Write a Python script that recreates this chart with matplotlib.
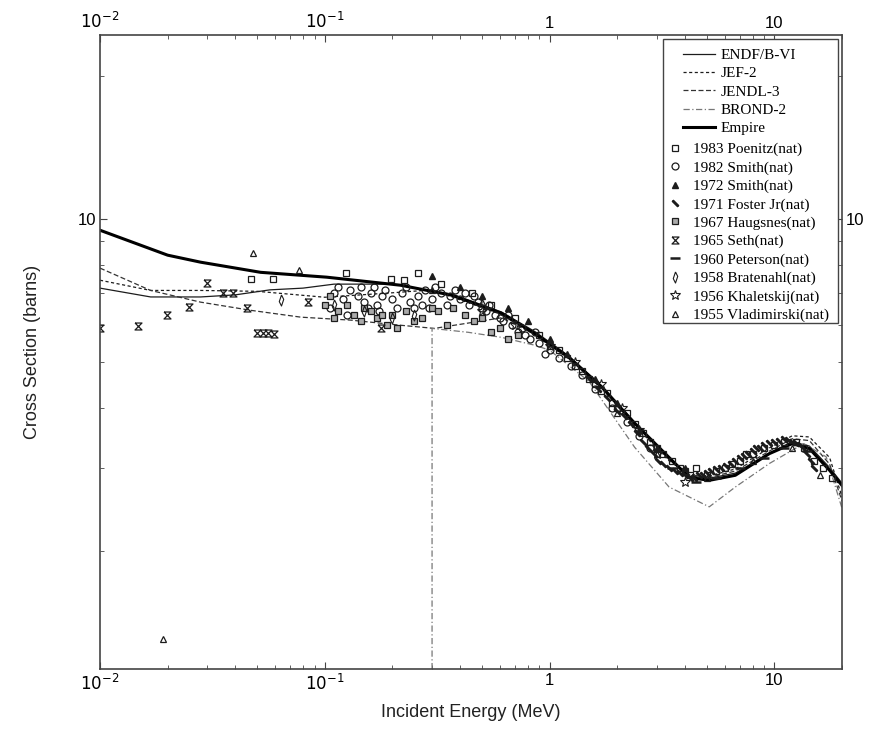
import matplotlib
matplotlib.use("Agg")
import matplotlib.pyplot as plt
from matplotlib.patches import Rectangle
from matplotlib.ticker import FixedLocator, FixedFormatter, LogLocator, NullFormatter

# evaluated cross sections (MeV, barns)
endf_e = [0.01, 0.0168, 0.028, 0.04, 0.057, 0.08, 0.11, 0.2, 0.37, 0.61, 0.86, 1.22, 1.71, 2.39, 3.4, 4.18, 5.13, 6.7, 9.5, 12.0, 14.3, 17.6, 20.0]
endf_xs = [7.16, 6.86, 6.86, 6.93, 7.10, 7.16, 7.30, 7.30, 6.95, 6.38, 5.80, 5.15, 4.45, 3.72, 3.12, 2.88, 2.85, 2.92, 3.22, 3.40, 3.33, 3.00, 2.78]

jef_e = [0.01, 0.0168, 0.028, 0.05, 0.1, 0.2, 0.3, 0.61, 0.86, 1.22, 1.71, 2.39, 3.4, 4.18, 5.13, 6.7, 9.5, 12.0, 14.3, 17.6, 20.0]
jef_xs = [7.44, 7.08, 7.08, 7.05, 6.85, 7.00, 7.10, 6.30, 5.70, 5.08, 4.40, 3.68, 3.10, 2.90, 2.88, 2.98, 3.30, 3.50, 3.48, 3.15, 2.60]

jendl_e = [0.01, 0.0168, 0.028, 0.0468, 0.0782, 0.131, 0.218, 0.307, 0.611, 0.86, 1.22, 1.71, 2.39, 3.4, 4.18, 5.13, 6.7, 9.5, 12.0, 14.3, 17.6, 20.0]
jendl_xs = [7.89, 7.08, 6.69, 6.43, 6.22, 6.13, 5.98, 5.89, 6.20, 5.72, 5.10, 4.40, 3.70, 3.12, 2.90, 2.86, 2.95, 3.25, 3.45, 3.42, 3.05, 2.55]

brond_e = [0.3, 0.3, 0.434, 0.611, 0.857, 1.0, 1.5, 2.39, 3.4, 5.13, 6.7, 9.5, 13.5, 17.0, 20.0]
brond_xs = [1.0, 5.89, 5.78, 5.64, 5.43, 5.30, 4.55, 3.31, 2.73, 2.48, 2.73, 3.06, 3.37, 3.16, 2.46]

empire_e = [0.01, 0.02, 0.028, 0.0518, 0.102, 0.218, 0.366, 0.611, 0.857, 1.216, 1.71, 2.39, 3.40, 4.18, 5.13, 6.70, 9.5, 12.0, 14.3, 17.6, 20.0]
empire_xs = [9.48, 8.40, 8.12, 7.73, 7.55, 7.26, 6.92, 6.34, 5.75, 5.12, 4.43, 3.72, 3.15, 2.86, 2.82, 2.89, 3.21, 3.37, 3.29, 2.96, 2.75]

# measurements
poenitz_e = [0.047, 0.059, 0.124, 0.197, 0.225, 0.26, 0.33, 0.45, 0.55, 0.7, 0.9, 1.0, 1.1, 1.2, 1.3, 1.4, 1.5, 1.6, 1.7, 1.8, 1.9, 2.0, 2.2, 2.4, 2.6, 2.8, 3.0, 3.2, 3.5, 3.8, 4.0, 4.2, 4.5, 5.0, 5.5, 6.0, 6.5, 7.0, 7.5, 8.0, 9.0, 10.0, 11.0, 12.5, 13.5, 15.0, 16.5, 18.0]
poenitz_xs = [7.5, 7.5, 7.7, 7.5, 7.45, 7.7, 7.3, 7.0, 6.6, 6.2, 5.7, 5.4, 5.3, 5.1, 4.9, 4.8, 4.6, 4.5, 4.35, 4.3, 4.1, 4.0, 3.9, 3.7, 3.55, 3.4, 3.3, 3.2, 3.1, 3.0, 2.95, 2.9, 3.0, 2.9, 2.95, 3.0, 3.05, 3.1, 3.2, 3.2, 3.3, 3.35, 3.4, 3.4, 3.3, 3.1, 3.0, 2.85]

smith82_e = [0.105, 0.11, 0.115, 0.12, 0.125, 0.13, 0.14, 0.145, 0.15, 0.155, 0.16, 0.165, 0.17, 0.175, 0.18, 0.185, 0.2, 0.21, 0.22, 0.23, 0.24, 0.25, 0.26, 0.27, 0.28, 0.29, 0.3, 0.31, 0.33, 0.35, 0.36, 0.38, 0.4, 0.42, 0.44, 0.46, 0.48, 0.5, 0.52, 0.54, 0.57, 0.6, 0.62, 0.65, 0.68, 0.72, 0.75, 0.78, 0.82, 0.86, 0.9, 0.95, 1.0, 1.1, 1.25, 1.4, 1.6, 1.9, 2.2, 2.5, 2.8]
smith82_xs = [6.5, 7.0, 7.2, 6.8, 6.3, 7.1, 6.9, 7.2, 6.7, 6.5, 7.0, 7.2, 6.6, 6.4, 6.9, 7.1, 6.8, 6.5, 7.0, 7.2, 6.7, 6.5, 6.9, 6.6, 7.1, 6.5, 6.8, 7.2, 7.0, 6.6, 6.9, 7.1, 6.8, 7.0, 6.6, 6.9, 6.7, 6.5, 6.4, 6.6, 6.3, 6.2, 6.1, 6.3, 6.0, 5.8, 5.9, 5.7, 5.6, 5.8, 5.5, 5.2, 5.3, 5.1, 4.9, 4.7, 4.4, 4.0, 3.75, 3.5, 3.3]

smith72_e = [0.3, 0.4, 0.5, 0.65, 0.8, 1.0, 1.2, 1.6, 2.0, 2.5, 3.0, 4.0]
smith72_xs = [7.6, 7.2, 6.9, 6.5, 6.1, 5.6, 5.2, 4.6, 4.1, 3.6, 3.3, 3.0]

foster_e = [1.5, 1.65, 1.8, 2.0, 2.15, 2.3, 2.45, 2.6, 2.75, 2.9, 3.05, 3.2, 3.4, 3.6, 3.8, 4.0, 4.2, 4.4, 4.6, 4.8, 5.0, 5.2, 5.5, 5.8, 6.1, 6.4, 6.7, 7.0, 7.3, 7.6, 8.0, 8.3, 8.6, 9.0, 9.5, 10.0, 10.5, 11.0, 11.5, 12.0, 12.5, 13.0, 13.5, 14.0, 14.5, 15.0]
foster_xs = [4.6, 4.4, 4.2, 3.95, 3.85, 3.7, 3.55, 3.4, 3.3, 3.2, 3.1, 3.05, 3.0, 2.95, 2.92, 2.9, 2.85, 2.85, 2.9, 2.9, 2.92, 2.95, 2.98, 3.0, 3.02, 3.05, 3.1, 3.15, 3.18, 3.2, 3.25, 3.3, 3.3, 3.35, 3.38, 3.4, 3.42, 3.45, 3.43, 3.4, 3.38, 3.35, 3.28, 3.2, 3.1, 3.0]

haugsnes_e = [0.1, 0.105, 0.11, 0.115, 0.125, 0.135, 0.145, 0.15, 0.16, 0.17, 0.18, 0.19, 0.2, 0.21, 0.23, 0.25, 0.27, 0.3, 0.32, 0.35, 0.37, 0.42, 0.46, 0.5, 0.55, 0.6, 0.65, 0.72]
haugsnes_xs = [6.6, 6.9, 6.2, 6.4, 6.6, 6.3, 6.1, 6.5, 6.4, 6.2, 6.3, 6.0, 6.3, 5.9, 6.4, 6.1, 6.2, 6.5, 6.4, 6.0, 6.5, 6.3, 6.1, 6.2, 5.8, 5.9, 5.6, 5.7]

seth_e = [0.01, 0.0148, 0.0199, 0.0249, 0.030, 0.0354, 0.0392, 0.0453, 0.050, 0.053, 0.056, 0.0595, 0.084, 0.178]
seth_xs = [5.89, 5.95, 6.28, 6.53, 7.33, 6.99, 6.99, 6.50, 5.75, 5.75, 5.75, 5.72, 6.70, 5.89]

peterson_e = [3.5, 4.5, 5.5, 7.0, 9.0, 11.0, 14.0]
peterson_xs = [3.0, 2.8, 2.85, 3.0, 3.15, 3.3, 3.25]

bratenahl_e = [0.064, 0.11, 0.15, 0.2, 0.25]
bratenahl_xs = [6.75, 6.6, 6.4, 6.2, 6.3]

khaletskij_e = [0.5, 0.7, 1.0, 1.3, 1.7, 2.1, 2.5, 3.0, 4.0]
khaletskij_xs = [6.4, 6.0, 5.4, 5.0, 4.5, 4.0, 3.6, 3.2, 2.8]

vladimirski_e = [0.019, 0.048, 0.077, 0.3, 0.5, 1.0, 2.0, 3.0, 5.0, 8.0, 12.0, 16.0]
vladimirski_xs = [1.31, 8.48, 7.81, 7.1, 6.7, 5.5, 3.9, 3.2, 2.85, 3.1, 3.3, 2.9]

hourglass = [(-1, 1), (1, 1), (-1, -1), (1, -1), (-1, 1)]
leaf = [(0, 1.0), (0.4, 0.2), (0, -1.0), (-0.4, -0.2), (0, 1.0)]
ink = "#1c1c1c"

fig = plt.figure(figsize=(8.71, 7.33), dpi=100)
ax = fig.add_axes([0.1148, 0.0873, 0.852, 0.8647])
ax.set_xscale("log")
ax.set_yscale("log")

lines = []
lines += ax.plot(endf_e, endf_xs, "-", color=ink, lw=0.9, label="ENDF/B-VI")
lines += ax.plot(jef_e, jef_xs, linestyle=(0, (2.5, 2)), color=ink, lw=0.9, label="JEF-2")
lines += ax.plot(jendl_e, jendl_xs, linestyle=(0, (4, 2)), color="#333333", lw=0.9, label="JENDL-3")
lines += ax.plot(brond_e, brond_xs, linestyle=(0, (5, 2, 1, 2)), color="#777777", lw=0.9, label="BROND-2")
lines += ax.plot(empire_e, empire_xs, "-", color="black", lw=2.2, label="Empire")

mk = dict(linestyle="none", color=ink, mfc="none", ms=5, mew=0.9)
pts = []
pts += ax.plot(poenitz_e, poenitz_xs, marker="s", label="1983 Poenitz(nat)", **mk)
pts += ax.plot(smith82_e, smith82_xs, marker="o", label="1982 Smith(nat)", **mk)
pts += ax.plot(smith72_e, smith72_xs, marker="^", linestyle="none", color=ink, ms=5, label="1972 Smith(nat)")
pts += ax.plot(foster_e, foster_xs, marker=(2, 2, 45), linestyle="none", color=ink, ms=6, mew=1.8, label="1971 Foster Jr(nat)")
pts += ax.plot(haugsnes_e, haugsnes_xs, marker="s", linestyle="none", color=ink, mfc="#aaaaaa", ms=5, mew=0.9, label="1967 Haugsnes(nat)")
pts += ax.plot(seth_e, seth_xs, marker=hourglass, label="1965 Seth(nat)", **mk)
pts += ax.plot(peterson_e, peterson_xs, marker="_", linestyle="none", color=ink, ms=7, mew=1.8, label="1960 Peterson(nat)")
pts += ax.plot(bratenahl_e, bratenahl_xs, marker=leaf, linestyle="none", color=ink, mfc="none", ms=8, mew=0.8, label="1958 Bratenahl(nat)")
pts += ax.plot(khaletskij_e, khaletskij_xs, marker="*", linestyle="none", color=ink, mfc="none", ms=7, mew=0.8, label="1956 Khaletskij(nat)")
pts += ax.plot(vladimirski_e, vladimirski_xs, marker="^", label="1955 Vladimirski(nat)", **mk)

ax.set_xlim(0.01, 20)
ax.set_ylim(1.13, 24.4)

xt = [0.01, 0.1, 1, 10]
xl = ["$10^{-2}$", "$10^{-1}$", "1", "10"]
ax.xaxis.set_major_locator(FixedLocator(xt))
ax.xaxis.set_major_formatter(FixedFormatter(xl))
ax.xaxis.set_minor_locator(LogLocator(base=10, subs=range(2, 10), numticks=20))
ax.xaxis.set_minor_formatter(NullFormatter())
ax.yaxis.set_major_locator(FixedLocator([10]))
ax.yaxis.set_major_formatter(FixedFormatter(["10"]))
ax.yaxis.set_minor_locator(LogLocator(base=10, subs=range(2, 10), numticks=20))
ax.yaxis.set_minor_formatter(NullFormatter())

ax.tick_params(which="both", direction="in", top=True, right=True,
               labeltop=True, labelright=True, labelsize=12, color="#444444", pad=3)
ax.tick_params(which="major", length=5)
ax.tick_params(which="minor", length=3)
for lbl in ax.get_xticklabels() + ax.get_yticklabels():
    lbl.set_family("Liberation Sans")
for s in ax.spines.values():
    s.set_color("#444444")
    s.set_linewidth(1.2)

ax.set_xlabel("Incident Energy (MeV)", fontsize=13, family="Liberation Sans", color="#222222", labelpad=8)
ax.set_ylabel("Cross Section (barns)", fontsize=13, family="Liberation Sans", color="#222222", labelpad=26)

# legend: one frame, line entries and marker entries laid out separately
frame = Rectangle((0.7588, 0.5457), 0.2358, 0.448, transform=ax.transAxes,
                  facecolor="white", edgecolor="#444444", lw=1.0, zorder=4)
ax.add_patch(frame)
font = {"family": "Liberation Serif", "size": 11}
leg1 = ax.legend(handles=lines, loc="upper left", bbox_to_anchor=(0.7857, 0.979),
                 borderaxespad=0, borderpad=0, frameon=False, prop=font,
                 labelspacing=0.3, handlelength=2.1, handletextpad=0.35)
leg1.set_zorder(5)
ax.add_artist(leg1)
leg2 = ax.legend(handles=pts, loc="upper left", bbox_to_anchor=(0.7649, 0.831),
                 borderaxespad=0, borderpad=0, frameon=False, prop=font,
                 labelspacing=0.3, handlelength=1.0, handletextpad=0.69)
leg2.set_zorder(5)

fig.savefig("out.png", dpi=100)
